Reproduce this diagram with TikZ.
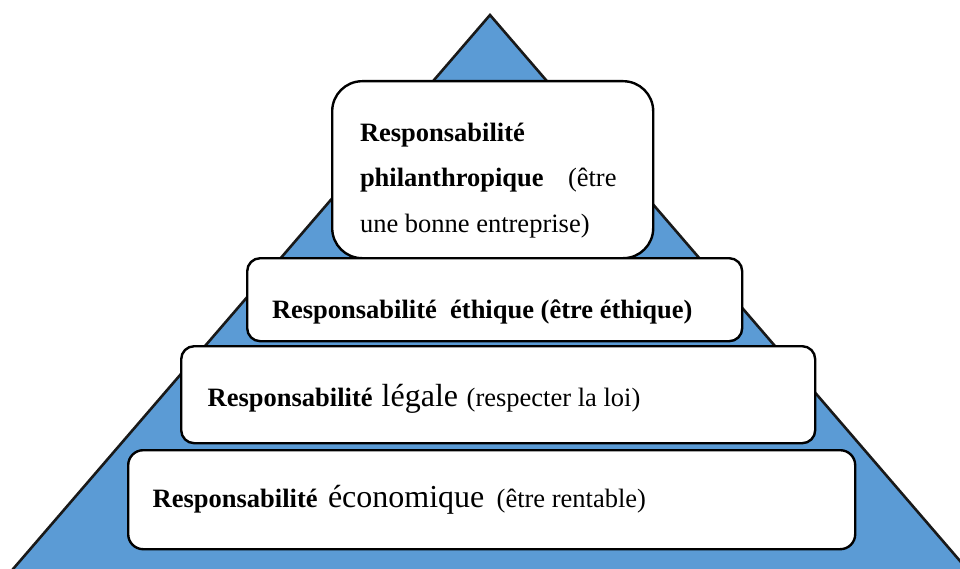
\documentclass[tikz,border=0pt]{standalone}
\usepackage{fontspec}
\setmainfont{Liberation Serif}
\definecolor{pyrblue}{HTML}{5B9BD5}
\tikzset{
  layerbox/.style={draw=black, line width=2.4pt, fill=white, inner sep=0pt, anchor=north west},
  txt/.style={anchor=base west, inner sep=0pt, outer sep=0pt, font=\fontsize{26.5}{30}\selectfont},
  txtb/.style={txt, font=\fontsize{26.5}{30}\selectfont\bfseries},
  txtbig/.style={txt, font=\fontsize{32}{36}\selectfont}
}
\begin{document}
\begin{tikzpicture}[x=1pt,y=-1pt]
\useasboundingbox (0,0) rectangle (960,569);
\begin{scope}
\clip (0,0) rectangle (960,569);
\coordinate (apex) at (490,15);
\coordinate (bl) at (-5,590);
\coordinate (br) at (985,590);
\draw[fill=pyrblue, draw=black!90, line width=2.6pt, line join=miter] (apex) -- (bl) -- (br) -- cycle;
\end{scope}
% boxes
\node[layerbox, rounded corners=30pt, minimum width=321pt, minimum height=177pt] (bphil) at (331,80) {};
\node[layerbox, rounded corners=13pt, minimum width=495pt, minimum height=83pt] (beth) at (246,257) {};
\node[layerbox, rounded corners=13pt, minimum width=634pt, minimum height=97pt] (bleg) at (180,345) {};
\node[layerbox, rounded corners=15pt, minimum width=727pt, minimum height=99pt] (beco) at (127,449) {};
% philanthropic text
\node[txtb] (p1) at (360,142) {Responsabilité};
\node[txtb] (p2) at (360,187) {philanthropique};
\node[txt] (p3) at (568,187) {(être};
\node[txt] (p4) at (360,233) {une bonne entreprise)};
% ethique
\node[txtb] (e1) at (272,318) {Responsabilité\ \ éthique (être éthique)};
% legale
\node[txtb] (l1) at (207.7,406) {Responsabilité};
\node[txtbig] (l2) at (381.7,406) {légale};
\node[txt] (l3) at (466.7,406) {(respecter la loi)};
% economique
\node[txtb] (c1) at (152.7,507) {Responsabilité};
\node[txtbig] (c2) at (328,507) {économique};
\node[txt] (c3) at (496.7,507) {(être rentable)};
\end{tikzpicture}
\end{document}
